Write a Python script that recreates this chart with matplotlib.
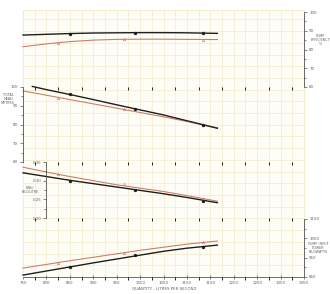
import numpy as np
import matplotlib
matplotlib.use("Agg")
import matplotlib.pyplot as plt
from matplotlib.ticker import MultipleLocator, FixedLocator, FormatStrFormatter

# flow (litres per second) where the curves were read
flow = [750, 800, 850, 900, 950, 1000, 1050, 1100, 1165]
flow_head_blk = [770, 800, 850, 900, 950, 1000, 1050, 1100, 1165]

eff_blk = [87.7, 88.1, 88.5, 88.8, 88.9, 89.0, 89.0, 88.9, 88.6]
eff_red = [81.5, 83.0, 84.2, 85.0, 85.4, 85.5, 85.5, 85.4, 85.3]

head_blk = [100.3, 98.6, 96.0, 93.3, 90.5, 87.8, 85.1, 82.0, 78.0]
head_red = [97.9, 95.6, 93.3, 91.0, 88.7, 86.4, 84.1, 81.6, 78.2]

kwh_blk = [0.321, 0.311, 0.301, 0.292, 0.283, 0.274, 0.265, 0.255, 0.241]
kwh_red = [0.336, 0.323, 0.311, 0.300, 0.289, 0.280, 0.271, 0.260, 0.245]

pow_blk = [860, 881, 902, 923, 943, 963, 983, 999, 1015]
pow_red = [896, 915, 934, 952, 970, 988, 1004, 1020, 1036]

# test points
pts_red = [825, 965, 1135]
pts_blk = [850, 990, 1135]
eff_red_pts = [83.6, 85.6, 85.0]
eff_blk_pts = [88.4, 89.0, 88.9]
head_red_pts = [94.4, 88.2, 79.8]
head_blk_pts = [96.1, 88.4, 80.0]
kwh_red_pts = [0.318, 0.290, 0.250]
kwh_blk_pts = [0.300, 0.276, 0.246]
pow_red_pts = [925, 975, 1031]
pow_blk_pts = [902, 965, 1005]

pow_ticks = [850, 950, 1050, 1150]

W, H = 330, 294
BLK = "#1e1e1e"
RED = "#cc7e68"
TXT = "#606060"
GRID = "#f3edcf"
AX = "#555555"
FS = 2.9

plt.rcParams["font.family"] = "DejaVu Sans"

fig = plt.figure(figsize=(W / 100, H / 100), dpi=100)
fig.patch.set_facecolor("white")


def box(x0, y0, x1, y1):
    return [x0 / W, 1 - y1 / H, (x1 - x0) / W, (y1 - y0) / H]


# graph paper background with the x axis
bg = fig.add_axes(box(23, 10, 304, 277))
bg.set_facecolor("#fffef6")
bg.set_xlim(750, 1350)
bg.set_ylim(0, 570)
bg.set_xticks(np.arange(750, 1351, 50))
bg.set_xticks(np.arange(750, 1351, 25), minor=True)
bg.set_yticks(np.arange(0, 571, 25))
bg.grid(True, which="both", color=GRID, lw=0.6)
bg.tick_params(axis="y", length=0, labelleft=False)
bg.tick_params(axis="x", which="major", direction="inout", length=3, width=0.5,
               labelsize=FS, labelcolor=TXT, pad=1.5, color=AX)
bg.tick_params(axis="x", which="minor", length=0)
for s in ["top", "left", "right"]:
    bg.spines[s].set_color(GRID)
bg.spines["bottom"].set_color(AX)
bg.spines["bottom"].set_linewidth(0.6)
bg.set_axisbelow(True)


def overlay(rect, ylim):
    ax = fig.add_axes(rect, sharex=bg)
    ax.patch.set_alpha(0)
    ax.set_ylim(*ylim)
    for s in ax.spines.values():
        s.set_visible(False)
    ax.tick_params(axis="x", bottom=False, labelbottom=False)
    ax.tick_params(axis="y", which="both", labelsize=FS, labelcolor=TXT,
                   color=AX, width=0.5, pad=1.2)
    ax.tick_params(axis="y", which="major", length=2.5)
    ax.tick_params(axis="y", which="minor", length=1.5)
    return ax


def show_spine(ax, side):
    ax.spines[side].set_visible(True)
    ax.spines[side].set_color(AX)
    ax.spines[side].set_linewidth(0.6)


def curves(ax, xb, yb, xr, yr, pxb, pyb, pxr, pyr):
    ax.plot(xr, yr, color=RED, lw=0.8, clip_on=False)
    ax.plot(xb, yb, color=BLK, lw=1.0, clip_on=False)
    ax.plot(pxr, pyr, ls="none", marker="^", ms=1.8, mfc="none", mec=RED, mew=0.4, clip_on=False)
    ax.plot(pxb, pyb, ls="none", marker="o", ms=1.4, mfc=BLK, mec=BLK, clip_on=False)


def side_label(x, y, s):
    fig.text(x / W, 1 - y / H, s, ha="center", va="center",
             fontsize=FS * 0.85, color=TXT, linespacing=1.0)


# pump efficiency (right)
ax1 = overlay(box(23, 12, 304, 87), (60, 100))
show_spine(ax1, "right")
ax1.yaxis.tick_right()
ax1.yaxis.set_major_locator(MultipleLocator(10))
ax1.yaxis.set_minor_locator(MultipleLocator(5))
curves(ax1, flow, eff_blk, flow, eff_red, pts_blk, eff_blk_pts, pts_red, eff_red_pts)
side_label(320, 40, "PUMP\nEFFICIENCY\n%")

# total head (left)
ax2 = overlay(box(23, 87, 304, 162), (60, 100))
show_spine(ax2, "left")
ax2.yaxis.set_major_locator(MultipleLocator(10))
ax2.yaxis.set_minor_locator(MultipleLocator(5))
curves(ax2, flow_head_blk, head_blk, flow, head_red, pts_blk, head_blk_pts, pts_red, head_red_pts)
side_label(8, 99, "TOTAL\nHEAD\nMETRES")

# kWh per kilolitre (inner left)
ax3 = overlay(box(23, 162, 304, 218), (0.20, 0.35))
show_spine(ax3, "left")
ax3.spines["left"].set_position(("data", 800))
ax3.yaxis.set_major_locator(MultipleLocator(0.05))
ax3.yaxis.set_minor_locator(MultipleLocator(0.025))
ax3.yaxis.set_major_formatter(FormatStrFormatter("%.2f"))
curves(ax3, flow, kwh_blk, flow, kwh_red, pts_blk, kwh_blk_pts, pts_red, kwh_red_pts)
side_label(30, 190, "kWh/\nKILOLITRE")

# pump input power (right)
ax4 = overlay(box(23, 219, 304, 277), (850, 1150))
show_spine(ax4, "right")
ax4.yaxis.tick_right()
ax4.yaxis.set_major_locator(FixedLocator(pow_ticks))
ax4.yaxis.set_minor_locator(MultipleLocator(50))
curves(ax4, flow, pow_blk, flow, pow_red, pts_blk, pow_blk_pts, pts_red, pow_red_pts)
side_label(318, 248, "PUMP INPUT\nPOWER\nKILOWATTS")

fig.text(164 / W, 1 - 288 / H, "QUANTITY : LITRES PER SECOND", ha="center", va="center",
         fontsize=FS, color=TXT)

fig.savefig("out.png", dpi=100)
